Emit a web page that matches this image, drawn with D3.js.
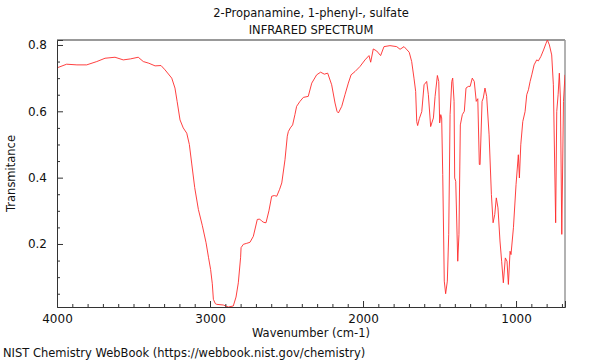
<!DOCTYPE html>
<html>
<head>
<meta charset="utf-8">
<script src="https://cdn.jsdelivr.net/npm/d3@7"></script>
<style>
  body { margin: 0; background: #fff; }
  text { font-family: "DejaVu Sans", sans-serif; fill: #111; }
</style>
</head>
<body>
<div id="chart"></div>
<script>
// spectrum
const wavenumbers = [4000, 3937, 3870, 3806, 3740, 3686, 3621, 3567, 3520, 3469, 3436, 3400, 3359, 3320, 3294, 3250, 3229, 3215, 3196, 3175, 3152, 3135, 3120, 3100, 3076, 3050, 3026, 3010, 2996, 2985, 2978, 2965, 2956, 2913, 2880, 2848, 2830, 2815, 2800, 2797, 2782, 2760, 2739, 2717, 2691, 2675, 2662, 2648, 2634, 2615, 2597, 2580, 2564, 2545, 2531, 2510, 2495, 2488, 2475, 2460, 2445, 2434, 2412, 2390, 2358, 2335, 2303, 2277, 2253, 2231, 2205, 2183, 2170, 2161, 2139, 2118, 2096, 2078, 2052, 2020, 1987, 1961, 1950, 1933, 1911, 1885, 1863, 1824, 1780, 1758, 1732, 1712, 1698, 1682, 1667, 1656, 1649, 1643, 1632, 1616, 1601, 1584, 1573, 1558, 1540, 1529, 1514, 1505, 1499, 1492, 1486, 1479, 1469, 1460, 1449, 1440, 1431, 1420, 1414, 1405, 1401, 1394, 1381, 1373, 1364, 1351, 1338, 1327, 1312, 1300, 1286, 1273, 1260, 1250, 1240, 1235, 1222, 1214, 1203, 1192, 1176, 1161, 1150, 1139, 1129, 1118, 1105, 1094, 1083, 1070, 1059, 1050, 1039, 1033, 1017, 1000, 985, 978, 969, 956, 941, 930, 919, 908, 897, 882, 865, 854, 838, 820, 804, 795, 782, 767, 756, 747, 741, 734, 725, 717, 710, 701, 690, 680];
const transmittance = [0.731, 0.742, 0.740, 0.740, 0.750, 0.760, 0.763, 0.755, 0.758, 0.763, 0.750, 0.745, 0.737, 0.738, 0.725, 0.700, 0.670, 0.630, 0.574, 0.550, 0.534, 0.500, 0.444, 0.370, 0.304, 0.255, 0.204, 0.160, 0.123, 0.080, 0.033, 0.020, 0.018, 0.016, 0.010, 0.013, 0.040, 0.083, 0.160, 0.189, 0.199, 0.202, 0.205, 0.223, 0.274, 0.275, 0.269, 0.265, 0.264, 0.300, 0.344, 0.346, 0.344, 0.365, 0.384, 0.454, 0.525, 0.539, 0.550, 0.559, 0.590, 0.615, 0.630, 0.642, 0.645, 0.685, 0.710, 0.718, 0.712, 0.715, 0.680, 0.625, 0.600, 0.595, 0.615, 0.650, 0.685, 0.710, 0.720, 0.735, 0.755, 0.768, 0.748, 0.788, 0.782, 0.768, 0.795, 0.798, 0.795, 0.787, 0.795, 0.785, 0.778, 0.750, 0.700, 0.660, 0.569, 0.557, 0.578, 0.599, 0.680, 0.690, 0.650, 0.554, 0.580, 0.645, 0.708, 0.690, 0.565, 0.590, 0.580, 0.409, 0.088, 0.050, 0.088, 0.229, 0.590, 0.690, 0.700, 0.630, 0.399, 0.389, 0.148, 0.229, 0.559, 0.590, 0.600, 0.670, 0.675, 0.675, 0.700, 0.690, 0.630, 0.638, 0.440, 0.439, 0.630, 0.640, 0.670, 0.645, 0.529, 0.349, 0.264, 0.289, 0.339, 0.309, 0.209, 0.148, 0.083, 0.158, 0.148, 0.078, 0.178, 0.168, 0.249, 0.379, 0.469, 0.399, 0.499, 0.569, 0.599, 0.650, 0.665, 0.690, 0.710, 0.740, 0.755, 0.752, 0.765, 0.785, 0.805, 0.815, 0.800, 0.770, 0.680, 0.429, 0.264, 0.599, 0.650, 0.715, 0.640, 0.229, 0.630, 0.710];

const xMajor = [4000, 3000, 2000, 1000];
const yMajor = [0.2, 0.4, 0.6, 0.8];

const width = 600, height = 360;
const margin = { top: 40, right: 35, bottom: 53, left: 57 };
const innerW = width - margin.left - margin.right;
const innerH = height - margin.top - margin.bottom;
const fontSize = 11.5;

const svg = d3.select("#chart").append("svg")
  .attr("width", width)
  .attr("height", height);

const x = d3.scaleLinear().domain([4000, 680]).range([0, innerW]);
const y = d3.scaleLinear().domain([0.010, 0.815]).range([innerH, 0]);

const g = svg.append("g").attr("transform", `translate(${margin.left},${margin.top})`);

g.append("clipPath").attr("id", "clip")
  .append("rect").attr("width", innerW).attr("height", innerH);

// frame: top and right in grey
g.append("line").attr("x1", 0).attr("x2", innerW).attr("y1", 0).attr("y2", 0)
  .attr("stroke", "#999").attr("stroke-width", 2);
g.append("line").attr("x1", innerW).attr("x2", innerW).attr("y1", 0).attr("y2", innerH)
  .attr("stroke", "#999").attr("stroke-width", 1.5);

const pts = wavenumbers.map((w, i) => [w, transmittance[i]]);
const line = d3.line().x(d => x(d[0])).y(d => y(d[1]));

g.append("path")
  .datum(pts)
  .attr("clip-path", "url(#clip)")
  .attr("fill", "none")
  .attr("stroke", "#ff2a2a")
  .attr("stroke-width", 0.9)
  .attr("d", line);

// minor ticks
const xMinor = d3.range(700, 4001, 100).filter(v => !xMajor.includes(v));
const yMinor = d3.range(0.05, 0.81, 0.05).map(v => +v.toFixed(2)).filter(v => !yMajor.includes(v));

const xAxis = d3.axisBottom(x).tickValues(xMajor).tickSize(-6).tickPadding(10).tickFormat(d3.format("d"));
const xAxisMinor = d3.axisBottom(x).tickValues(xMinor).tickSize(-3).tickFormat("");
const yAxis = d3.axisLeft(y).tickValues(yMajor).tickSize(-6).tickPadding(10).tickFormat(d3.format(".1f"));
const yAxisMinor = d3.axisLeft(y).tickValues(yMinor).tickSize(-3).tickFormat("");

const gx = g.append("g").attr("transform", `translate(0,${innerH})`).call(xAxis);
g.append("g").attr("transform", `translate(0,${innerH})`).call(xAxisMinor).select(".domain").remove();
const gy = g.append("g").call(yAxis);
g.append("g").call(yAxisMinor).select(".domain").remove();

[gx, gy].forEach(a => {
  a.selectAll("text").attr("font-size", 12).attr("font-family", "DejaVu Sans, sans-serif").attr("fill", "#111");
  a.select(".domain").attr("stroke", "#333");
});
g.selectAll(".tick line").attr("stroke", "#333");
gx.selectAll("text").attr("dy", "0.5em");

// titles
svg.append("text").attr("x", margin.left + innerW / 2).attr("y", 17)
  .attr("text-anchor", "middle").attr("font-size", fontSize).text("2-Propanamine, 1-phenyl-, sulfate");
svg.append("text").attr("x", margin.left + innerW / 2).attr("y", 34)
  .attr("text-anchor", "middle").attr("font-size", fontSize).text("INFRARED SPECTRUM");

svg.append("text").attr("x", margin.left + innerW / 2).attr("y", 337)
  .attr("text-anchor", "middle").attr("font-size", fontSize).text("Wavenumber (cm-1)");

svg.append("text")
  .attr("transform", `translate(15,${margin.top + innerH / 2}) rotate(-90)`)
  .attr("text-anchor", "middle").attr("font-size", fontSize).text("Transmitance");

svg.append("text").attr("x", 3).attr("y", 357)
  .attr("font-size", fontSize).text("NIST Chemistry WebBook (https://webbook.nist.gov/chemistry)");
</script>
</body>
</html>
